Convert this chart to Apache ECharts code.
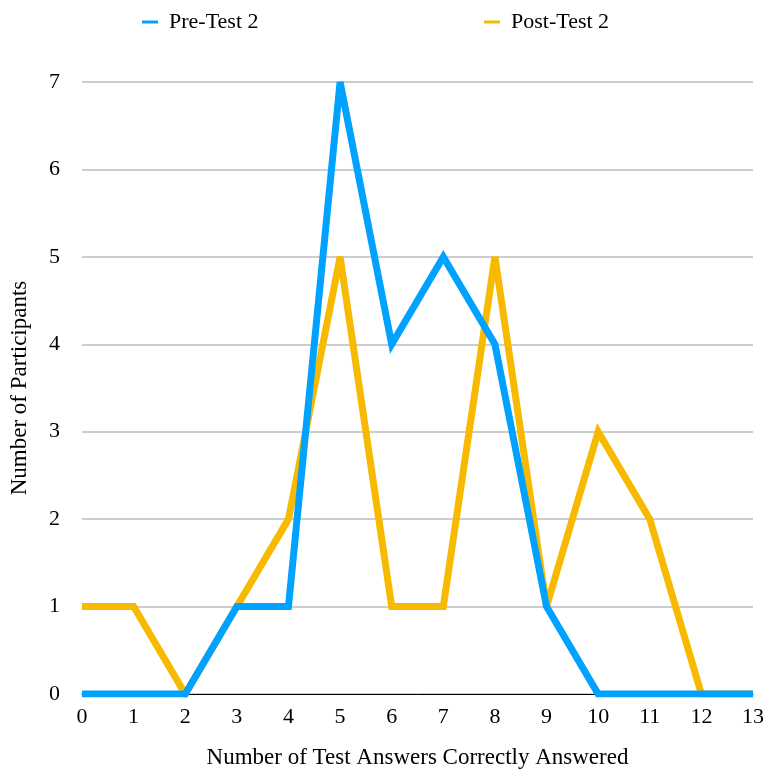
<!DOCTYPE html>
<html><head><meta charset="utf-8">
<script src="https://cdn.jsdelivr.net/npm/echarts@6/dist/echarts.min.js"></script>
<style>html,body{margin:0;padding:0;background:#fff}#c{width:768px;height:769px}</style>
</head><body><div id="c"></div>
<script>
const categories = ['0','1','2','3','4','5','6','7','8','9','10','11','12','13'];
const preTest2 = [0,0,0,1,1,7,4,5,4,1,0,0,0,0];
const postTest2 = [1,1,0,1,2,5,1,1,5,1,3,2,0,0];
const yTicks = [0,1,2,3,4,5,6,7];
const font = 'Liberation Serif';
const chart = echarts.init(document.getElementById('c'));
chart.setOption({
  animation:false,
  textStyle:{fontFamily:font},
  legend:[
    {data:['Pre-Test 2'], left:137, top:6, itemWidth:16, itemHeight:3, itemGap:10,
     icon:'rect', textStyle:{fontFamily:font,fontSize:22,color:'#000',padding:[0,0,0,6]}},
    {data:['Post-Test 2'], left:479, top:6, itemWidth:16, itemHeight:3, itemGap:10,
     icon:'rect', textStyle:{fontFamily:font,fontSize:22,color:'#000',padding:[0,0,0,6]}}
  ],
  grid:{left:82,right:15,top:82,bottom:75,containLabel:false,outerBoundsMode:'none'},
  xAxis:{type:'category',data:categories,boundaryGap:false,
    name:'Number of Test Answers Correctly Answered',nameLocation:'middle',nameGap:52,
    nameTextStyle:{fontFamily:font,fontSize:23,color:'#000'},
    axisLine:{lineStyle:{color:'#000',width:1}},axisTick:{show:false},
    axisLabel:{fontFamily:font,fontSize:22,color:'#000',margin:12},
    splitLine:{show:false}},
  yAxis:{type:'value',min:0,max:7,interval:1,
    name:'Number of Participants',nameLocation:'middle',nameGap:51,
    nameTextStyle:{fontFamily:font,fontSize:23,color:'#000'},
    axisLine:{show:false},axisTick:{show:false},
    axisLabel:{fontFamily:font,fontSize:22,color:'#000',margin:22,
      formatter:v=>yTicks.includes(v)?String(v):''},
    splitLine:{lineStyle:{color:'#bdbdbd',width:1.5}}},
  series:[
    {name:'Post-Test 2',type:'line',data:postTest2,symbol:'none',
      lineStyle:{color:'#F8BA00',width:7,join:'miter',miterLimit:3},itemStyle:{color:'#F8BA00'}},
    {name:'Pre-Test 2',type:'line',data:preTest2,symbol:'none',
      lineStyle:{color:'#00A2FF',width:7,join:'miter',miterLimit:3},itemStyle:{color:'#00A2FF'}}
  ]
});
</script></body></html>
